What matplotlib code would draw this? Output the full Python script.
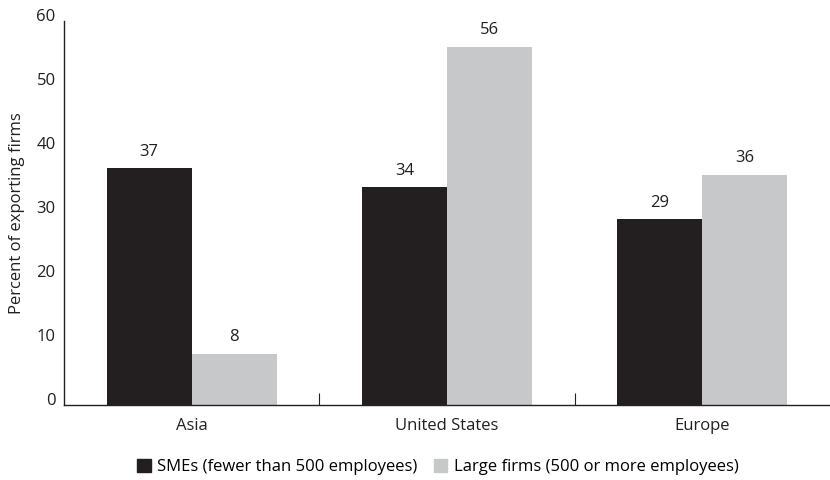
import numpy as np
import matplotlib.pyplot as plt
from matplotlib.patches import Patch

regions = ['Asia', 'United States', 'Europe']
smes = [37, 34, 29]
large = [8, 56, 36]
series_names = ['SMEs (fewer than 500 employees)', 'Large firms (500 or more employees)']
y_ticks = [0, 10, 20, 30, 40, 50, 60]

dark = '#231f20'
light = '#c7c8ca'
plt.rcParams['font.family'] = ['Open Sans', 'DejaVu Sans']
fs = 12

fig = plt.figure(figsize=(8.3, 4.8), dpi=100)
ax = fig.add_axes([64 / 830, 75 / 480, 1 - 64 / 830, 384 / 480])

x = np.arange(len(regions))
w = 0.333
b1 = ax.bar(x - w / 2, smes, w, color=dark)
b2 = ax.bar(x + w / 2, large, w, color=light)
for bars, vals in ((b1, smes), (b2, large)):
    for rect, v in zip(bars, vals):
        ax.text(rect.get_x() + rect.get_width() / 2, v + 1.3, str(v),
                ha='center', va='bottom', fontsize=fs, color=dark)

ax.set_xlim(-0.5, 2.5)
ax.set_ylim(0, 60)
ax.set_yticks(y_ticks)
ax.set_yticklabels([str(t) for t in y_ticks])
ax.tick_params(axis='y', length=0, pad=6, labelsize=fs, labelcolor=dark)
for lab in ax.get_yticklabels():
    lab.set_va('baseline')
ax.set_xticks(x)
ax.set_xticklabels(regions)
ax.tick_params(axis='x', length=0, pad=9, labelsize=fs, labelcolor=dark)
# short separators between the region groups
ax.set_xticks([0.5, 1.5], minor=True)
ax.tick_params(axis='x', which='minor', direction='in', length=9, width=0.8, color=dark)

for side in ('top', 'right'):
    ax.spines[side].set_visible(False)
for side in ('left', 'bottom'):
    ax.spines[side].set_color(dark)
    ax.spines[side].set_linewidth(1.0)

ax.set_ylabel('Percent of exporting firms', fontsize=fs, color=dark, labelpad=8)

handles = [Patch(color=dark), Patch(color=light)]
fig.legend(handles, series_names, loc='center', bbox_to_anchor=(438 / 830, 1 - 467 / 480),
           ncol=2, frameon=False, fontsize=fs, handlelength=0.8, handleheight=0.8,
           handletextpad=0.4, columnspacing=1.0)

fig.savefig('out.png', dpi=100)
